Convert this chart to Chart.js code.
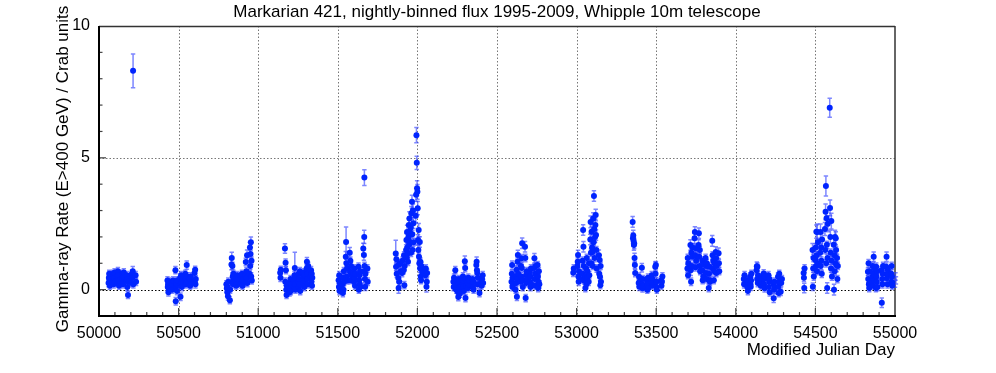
<!DOCTYPE html>
<html>
<head>
<meta charset="utf-8">
<script src="https://cdn.jsdelivr.net/npm/chart.js@4/dist/chart.umd.min.js"></script>
<style>
  body { margin: 0; background: #fff; }
</style>
</head>
<body>
<canvas id="lc" width="996" height="373"></canvas>
<script>
// Mrk 421 nightly flux, one array per observing season: [MJD, flux, error]
// (error omitted = typical bar of the low-flux nights)
const typicalErr = 0.14;

const s1995 = [[50060,0.25],[50062,0.45],[50064,0.6],[50066,0.35],[50068,0.15],[50070,0.55],[50073,0.4],
  [50086,0.3],[50088,0.6],[50090,0.5],[50092,0.2],[50095,0.45],[50098,0.65],[50101,0.3],
  [50115,0.5],[50117,0.25],[50119,0.7],[50121,0.4],[50123,0.55],[50126,0.15],[50129,0.35],
  [50145,0.6],[50147,0.3],[50149,0.45],[50151,0.2],[50153,0.5],[50156,0.65],
  [50174,0.35],[50176,0.55],[50178,0.1],[50180,0.4],[50182,-0.2],[50184,0.3],
  [50203,0.5],[50205,0.25],[50207,0.6],[50209,0.45],[50212,0.7,0.18],[50214,8.3,0.64],[50216,0.2],[50230,0.55],[50233,0.3]];

const s1996 = [[50430,0.35],[50432,0.1],[50434,0.2],[50436,-0.1],[50438,0.05],[50441,0.3],
  [50456,0.15],[50458,0.25],[50460,0.0],[50462,0.2],[50465,0.35],
  [50480,0.74],[50482,-0.44],[50484,0.1],[50486,0.3],[50488,0.2],[50490,-0.05],[50492,0.35],
  [50510,0.45],[50512,-0.27],[50514,0.2],[50516,0.55],[50518,0.3],[50520,0.1],[50523,0.4],
  [50540,0.35],[50542,0.6],[50544,0.2],[50546,0.45],[50548,0.25],[50551,0.93,0.16],[50553,0.5],[50556,0.3],
  [50570,0.4],[50572,0.15],[50574,0.3],[50576,0.5],[50578,0.2],
  [50600,0.63],[50602,0.35],[50604,0.75],[50606,0.2],[50608,0.4]];

const s1997 = [[50800,0.2],[50803,0.05],[50806,-0.1],[50808,0.1],[50810,-0.25],[50812,0.3],[50822,-0.4],[50824,0.0],
  [50832,0.95,0.2],[50834,1.2,0.22],[50836,0.3],[50838,0.9],[50840,0.5],[50842,0.2],[50844,0.6],
  [50860,0.35],[50862,0.15],[50864,0.45],[50866,0.25],[50868,0.55],[50870,0.3],[50872,0.4],
  [50890,0.5],[50892,0.2],[50894,0.45],[50896,0.3],[50898,0.6],[50900,0.35],[50902,0.15],
  [50920,0.55],[50922,1.05],[50924,0.3],[50926,0.7],[50928,0.45],[50930,1.3,0.2],[50932,0.25],
  [50946,0.6],[50948,1.6,0.2],[50950,0.9],[50952,1.35],[50954,1.8,0.2],[50956,0.5],[50958,1.1],[50960,0.35]];

const s1998 = [[51138,0.64],[51140,0.45],[51142,0.75],[51168,1.56,0.18],[51170,0.3],[51172,1.02],[51174,0.74],[51176,0.0],[51178,-0.2],[51180,0.15],
  [51195,0.1],[51197,-0.1],[51199,0.25],[51201,0.05],[51203,0.4],[51205,-0.05],[51207,0.2],
  [51224,0.35],[51226,0.1],[51228,0.55],[51230,0.82,0.6],[51232,0.2],[51234,0.0],[51236,0.45],
  [51252,0.3],[51254,0.6],[51256,0.1],[51258,0.4],[51260,0.2],[51262,0.7],[51264,-0.05],
  [51282,0.5],[51284,0.25],[51286,0.65],[51288,0.35],[51290,0.1],[51292,0.55],
  [51304,0.8],[51306,1.06,0.16],[51308,0.4],[51310,0.6],[51312,0.2],[51314,0.9],
  [51330,0.5],[51332,0.74],[51334,0.3],[51336,0.6],[51338,0.15],[51340,0.45]];

const s1999 = [[51505,0.36],[51507,0.1],[51509,0.55],[51511,-0.05],[51513,0.25],[51515,0.06],
  [51530,0.2],[51532,-0.13],[51534,0.45],[51536,0.0],[51538,0.7],[51540,0.3],
  [51550,1.25,0.2],[51552,1.81,0.57],[51554,1.0],[51556,0.5],[51558,0.8],[51560,0.35],
  [51575,1.4,0.2],[51577,0.68],[51579,1.1],[51581,0.36],[51583,0.9],[51585,0.55],
  [51600,0.63],[51602,0.3],[51604,0.8],[51606,0.45],[51608,0.15],[51610,0.6],
  [51630,0.87],[51632,0.0],[51634,0.36],[51636,0.55],[51638,0.2],[51640,0.7],[51642,0.1],
  [51660,1.56,0.2],[51662,0.68],[51664,1.31,0.2],[51666,2.0,0.25],[51667,4.25,0.3],[51668,0.9],[51670,0.4],[51672,0.11],[51674,0.6],[51686,0.8],[51688,0.3]];

const s2000 = [[51864,1.37,0.5],[51866,0.87],[51868,1.15],[51870,0.6],[51880,0.44],[51882,0.06,0.2],[51884,0.95],[51886,0.3],
  [51893,1.0],[51895,0.7],[51904,0.63],[51906,1.1],[51914,0.74],[51916,1.3],[51918,0.17],[51920,0.9],
  [51929,1.5,0.2],[51931,1.88,0.25],[51933,1.2],[51935,2.19,0.25],[51937,1.6],[51939,1.37],[51941,1.06],[51944,2.0,0.2],
  [51946,2.45,0.25],[51948,1.7],[51950,2.7,0.25],[51952,2.2],[51956,1.81,0.2],[51958,2.35,0.2],[51960,1.4],[51962,2.9,0.25],
  [51966,3.33,0.25],[51968,2.1],[51970,1.5],[51972,3.0,0.25],[51975,2.52,0.2],[51977,1.8],
  [51990,2.8,0.25],[51992,3.6,0.25],[51994,5.86,0.29],[51996,4.81,0.25],[51998,3.85,0.28],[52000,3.71,0.28],[52002,3.09,0.25],
  [52004,1.88,0.2],[52006,1.5,0.2],[52008,2.26,0.25],[52010,1.25],[52012,1.0],[52015,1.81,0.2],[52017,0.8],[52019,1.06],
  [52021,0.5],[52023,0.36],[52025,0.9],[52030,0.74],[52032,0.63],[52050,0.55],[52053,0.8],[52057,0.11,0.2],[52059,0.3],[52061,0.63]];

const s2001 = [[52226,0.3],[52228,0.1],[52230,0.45],[52238,0.74],[52240,0.2],[52242,0.35],[52244,0.0],
  [52255,-0.1],[52257,-0.28],[52259,0.25],[52261,0.4],[52263,0.05],[52265,0.3],[52267,-0.15],
  [52284,0.2],[52286,0.5],[52288,0.1],[52290,0.35],[52292,-0.05],[52298,1.08,0.2],[52300,0.82],[52302,-0.32],[52304,0.4],[52306,0.15],
  [52316,0.3],[52318,0.05],[52320,0.45],[52322,0.2],[52324,0.35],
  [52345,0.25],[52347,0.4],[52349,0.1],[52351,0.3],[52353,0.0],
  [52370,0.93,0.16],[52372,1.06,0.18],[52374,0.74],[52376,0.63],[52378,0.2],[52380,0.45],
  [52390,-0.13],[52400,0.3],[52403,0.15],[52406,0.4],[52410,0.55],[52413,0.25]];

const s2002 = [[52591,0.3],[52593,0.6],[52595,0.93,0.16],[52597,0.1],[52599,0.45],[52601,0.2],
  [52617,0.0],[52619,0.5],[52621,0.25],[52623,0.75],[52625,-0.27],[52627,0.4],[52629,1.06],[52631,1.31,0.18],[52633,0.6],
  [52648,0.3],[52650,0.9],[52652,0.5],[52654,1.19],[52656,0.82],[52658,1.76,0.2],[52660,0.35],[52662,0.1],
  [52676,1.63,0.2],[52678,1.2],[52680,-0.32],[52682,0.55],[52684,0.25],[52686,0.7],[52688,0.4],
  [52705,0.68],[52707,0.3],[52709,0.5],[52711,0.1],[52713,0.8],[52715,0.2],
  [52733,0.82],[52735,1.19,0.18],[52737,0.4],[52739,0.6],[52741,0.15],[52743,0.9],
  [52755,0.93],[52757,0.5],[52759,0.06],[52761,0.3],[52763,0.7],[52766,0.2]];

const s2003 = [[52979,0.64],[52982,0.8],[53005,0.9],[53007,1.06],[53009,1.31,0.18],[53011,0.5],[53013,0.3],[53015,0.7],
  [53035,0.4],[53037,1.1],[53039,0.6],[53041,2.26,0.2],[53043,1.63,0.2],[53045,0.9],[53047,0.35],
  [53055,0.06],[53057,0.5],[53060,0.8],[53062,0.2],[53064,1.2],[53066,0.45],[53068,0.7],
  [53076,0.3],[53078,1.0],[53080,0.55],[53086,1.9,0.2],[53088,2.57,0.22],[53090,1.4],[53092,1.0],[53094,2.2,0.2],
  [53097,1.6],[53099,1.43],[53101,0.9],[53105,2.7,0.22],[53107,1.8],[53109,3.55,0.2],[53111,2.3,0.2],[53113,1.2],
  [53116,2.0,0.2],[53118,2.45,0.22],[53120,2.83,0.22],[53122,2.07,0.2],[53124,1.5],[53126,0.8],
  [53140,1.3,0.2],[53142,0.6],[53145,1.12,0.2],[53147,0.49],[53149,0.17],[53151,0.9],[53153,0.3]];

const s2004 = [[53352,2.57,0.2],[53354,1.95,0.2],[53356,2.05,0.2],[53358,1.85,0.2],[53360,1.69,0.2],[53362,1.75,0.2],
  [53364,1.2,0.18],[53366,0.93],[53368,0.63],
  [53390,0.25],[53392,0.49],[53394,0.11],[53396,0.3],[53410,0.83,0.16],[53412,0.2],[53414,0.05],[53416,0.4],[53418,0.15],
  [53440,0.11],[53442,0.35],[53444,0.0],[53446,0.2],[53448,0.45],[53450,0.05],
  [53470,0.3],[53472,0.55],[53474,0.15],[53476,0.4],[53478,0.25],
  [53494,0.87,0.18],[53496,0.6],[53498,0.93],[53500,0.11],[53502,0.3],[53504,0.0],
  [53530,0.35],[53533,0.15],[53536,0.3],[53539,0.5]];

const s2005 = [[53696,0.8],[53698,1.2],[53700,0.55],[53702,1.0],
  [53715,1.69,0.2],[53717,0.74,0.2],[53719,0.3],[53721,1.4],[53724,0.9],[53726,1.25],[53728,1.6],
  [53741,1.95,0.2],[53743,2.19,0.2],[53745,1.3],[53747,0.85],[53749,1.57],[53751,1.1],
  [53766,1.69,0.2],[53768,2.14,0.2],[53770,1.25],[53772,0.9],[53774,1.5],[53776,0.7],
  [53788,0.74],[53790,1.1],[53792,0.36],[53794,0.95],[53796,0.5],
  [53810,1.2],[53812,0.63],[53814,0.9],[53816,0.4],[53818,1.0],
  [53830,0.06],[53832,0.6],[53834,0.87],[53836,0.36],[53838,0.3],
  [53852,1.85,0.2],[53854,1.3],[53856,0.8],[53858,1.1],[53862,0.36],[53864,0.7],[53866,1.0],
  [53874,1.43,0.2],[53876,1.19],[53878,0.63],[53880,0.9],[53892,1.38,0.2],[53894,1.0],[53896,0.7]];

const s2006 = [[54050,0.4],[54052,0.2],[54055,0.55],[54070,0.36],[54072,0.1],[54074,0.3],[54076,-0.05],
  [54090,0.49],[54092,0.2],[54094,0.11],[54096,0.35],[54098,0.6],
  [54130,0.74],[54132,0.89,0.16],[54134,0.4],[54136,0.87],[54138,0.25],[54140,0.55],
  [54155,0.36],[54157,0.15],[54159,0.45],[54161,0.3],
  [54175,0.61],[54177,0.2],[54179,0.4],[54181,0.05],[54183,0.5],
  [54205,0.55],[54207,0.1],[54209,0.3],[54211,0.4],[54213,-0.1],
  [54236,0.2],[54238,-0.33,0.16],[54240,0.0],[54242,0.3],[54244,0.1],
  [54265,0.49],[54267,0.11],[54269,-0.13],[54271,0.3],[54273,0.6],[54282,-0.08],[54285,0.25],[54290,0.4]];

const s2007 = [[54426,0.63,0.18],[54428,0.45],[54430,0.06,0.18],[54432,0.8],
  [54482,1.5,0.25],[54484,0.11],[54486,0.8],[54488,1.2],[54490,0.5],
  [54500,1.12,0.25],[54502,1.6],[54504,0.9],[54506,2.2,0.25],[54508,1.3],[54510,0.7],[54512,2.19,0.3],[54514,1.0],[54516,1.8],
  [54530,1.4],[54532,2.19,0.3],[54534,0.9],[54536,1.6],[54538,1.1],[54540,0.6],[54542,1.9,0.25],
  [54560,2.3,0.25],[54562,1.5],[54564,2.95,0.3],[54566,3.93,0.38],[54568,1.0],[54570,2.71,0.3],[54572,1.7],[54574,0.06,0.2],[54576,1.2],[54578,2.5,0.3],
  [54590,6.9,0.36],[54592,3.1,0.3],[54594,2.0,0.25],[54596,1.4],[54598,0.8],[54600,2.6,0.3],[54602,1.1],[54604,0.5],
  [54615,1.7,0.25],[54617,0.0,0.2],[54619,1.3],[54621,0.7],[54623,2.0,0.25],[54625,1.0],
  [54628,1.95,0.25],[54630,1.5],[54633,0.93,0.25],[54636,1.2],[54638,0.4],[54641,0.9]];

const s2008 = [[54830,0.68],[54832,0.4],[54834,1.0],[54836,0.2],[54838,0.06],[54840,0.7],[54842,0.3],
  [54858,0.49],[54860,0.9],[54862,0.15],[54864,0.6],[54866,1.25,0.18],[54868,0.35],[54870,0.8],
  [54880,0.06],[54882,0.87],[54884,0.5],[54886,0.3],[54888,0.7],[54890,0.1],
  [54915,0.74],[54917,-0.5,0.18],[54919,0.4],[54921,0.2],[54923,0.6],[54925,0.9],
  [54945,0.87],[54947,1.25,0.18],[54949,0.43],[54951,0.6],[54953,0.2],[54955,0.75],
  [54975,0.61],[54977,0.3],[54979,0.9],[54981,0.5],[54983,0.15],[55000,0.23],[55003,0.5],[55006,0.35]];

const seasons = [s1995, s1996, s1997, s1998, s1999, s2000, s2001, s2002, s2003, s2004, s2005, s2006, s2007, s2008];

// axis ticks
const xTicks = [50000, 50500, 51000, 51500, 52000, 52500, 53000, 53500, 54000, 54500, 55000];
const yTicks = [0, 5, 10];

const points = [];
seasons.forEach(season => {
  season.forEach(p => points.push({ x: p[0], y: p[1], err: p.length > 2 ? p[2] : typicalErr }));
});

const font = 'Liberation Sans, Arial, Helvetica, sans-serif';

// barras de error antes de los puntos
const errorBars = {
  id: 'errorBars',
  beforeDatasetsDraw(chart) {
    const { ctx, scales: { x, y } } = chart;
    ctx.save();
    ctx.strokeStyle = 'rgba(55,70,255,0.65)';
    ctx.lineWidth = 1.5;
    points.forEach(p => {
      const px = x.getPixelForValue(p.x);
      const top = y.getPixelForValue(p.y + p.err);
      const bot = y.getPixelForValue(p.y - p.err);
      ctx.beginPath();
      ctx.moveTo(px, top); ctx.lineTo(px, bot);
      ctx.moveTo(px - 2.2, top); ctx.lineTo(px + 2.2, top);
      ctx.moveTo(px - 2.2, bot); ctx.lineTo(px + 2.2, bot);
      ctx.stroke();
    });
    ctx.restore();
  }
};

// frame, dotted grid and inward ticks, ROOT style
const frame = {
  id: 'frame',
  beforeDatasetsDraw(chart) {
    const { ctx, chartArea: a, scales: { x, y } } = chart;
    ctx.save();
    ctx.lineWidth = 1;
    ctx.setLineDash([1.5, 2]);
    ctx.strokeStyle = '#777';
    xTicks.slice(1, -1).forEach(v => {
      const px = Math.round(x.getPixelForValue(v)) + 0.5;
      ctx.beginPath(); ctx.moveTo(px, a.top); ctx.lineTo(px, a.bottom); ctx.stroke();
    });
    const p5 = Math.round(y.getPixelForValue(5)) + 0.5;
    ctx.beginPath(); ctx.moveTo(a.left, p5); ctx.lineTo(a.right, p5); ctx.stroke();
    ctx.strokeStyle = '#000';
    const p0 = Math.round(y.getPixelForValue(0)) + 0.5;
    ctx.beginPath(); ctx.moveTo(a.left, p0); ctx.lineTo(a.right, p0); ctx.stroke();
    ctx.setLineDash([]);

    // minor ticks
    ctx.strokeStyle = '#444';
    ctx.lineWidth = 1.2;
    for (let v = 50100; v < 55000; v += 100) {
      const px = x.getPixelForValue(v);
      const len = v % 500 === 0 ? 8 : 4;
      ctx.beginPath(); ctx.moveTo(px, a.bottom); ctx.lineTo(px, a.bottom - len); ctx.stroke();
    }
    for (let v = -1; v <= 9; v++) {
      const py = y.getPixelForValue(v);
      const len = v % 5 === 0 ? 7 : 3.5;
      ctx.beginPath(); ctx.moveTo(a.left, py); ctx.lineTo(a.left + len, py); ctx.stroke();
    }

    // borders
    ctx.strokeStyle = '#333';
    ctx.lineWidth = 1.5;
    ctx.beginPath(); ctx.moveTo(a.left, a.top + 0.5); ctx.lineTo(a.right, a.top + 0.5); ctx.stroke();
    ctx.beginPath(); ctx.moveTo(a.right, a.top); ctx.lineTo(a.right, a.bottom); ctx.stroke();
    ctx.strokeStyle = '#000';
    ctx.lineWidth = 2;
    ctx.beginPath(); ctx.moveTo(a.left, a.top); ctx.lineTo(a.left, a.bottom + 1); ctx.stroke();
    ctx.beginPath(); ctx.moveTo(a.left - 1, a.bottom); ctx.lineTo(a.right + 1, a.bottom); ctx.stroke();
    ctx.restore();
  },
  afterDraw(chart) {
    const { ctx, chartArea: a } = chart;
    ctx.save();
    ctx.fillStyle = '#000';
    ctx.font = '17px ' + font;
    ctx.textAlign = 'center';
    ctx.textBaseline = 'middle';
    ctx.fillText('Markarian 421, nightly-binned flux 1995-2009, Whipple 10m telescope', 497, 12);
    ctx.textAlign = 'right';
    ctx.fillText('Modified Julian Day', a.right, 350);
    ctx.translate(63, 169);
    ctx.rotate(-Math.PI / 2);
    ctx.textAlign = 'center';
    ctx.fillText('Gamma-ray Rate (E>400 GeV) / Crab units', 0, 0);
    ctx.restore();
  }
};

const ctx = document.querySelector('#lc').getContext('2d');
const lightCurve = new Chart(ctx, {
  type: 'scatter',
  data: {
    datasets: [{
      data: points,
      pointRadius: 3,
      pointBorderWidth: 0,
      pointBackgroundColor: 'rgb(0,36,255)',
      showLine: false
    }]
  },
  options: {
    responsive: false,
    animation: false,
    layout: { padding: { left: 0, right: 101, top: 26, bottom: 0 } },
    plugins: { legend: { display: false }, tooltip: { enabled: false } },
    scales: {
      x: {
        type: 'linear', min: 50000, max: 55000,
        grid: { display: false, drawTicks: false },
        border: { display: false },
        afterBuildTicks: s => { s.ticks = xTicks.map(v => ({ value: v })); },
        afterFit: s => { s.height = 57; },
        ticks: {
          autoSkip: false, maxRotation: 0, padding: 8, color: '#000',
          font: { family: font, size: 16 },
          callback: v => String(v)
        }
      },
      y: {
        min: -1, max: 10,
        grid: { display: false, drawTicks: false },
        border: { display: false },
        afterBuildTicks: s => { s.ticks = yTicks.map(v => ({ value: v })); },
        afterFit: s => { s.width = 99; },
        ticks: {
          padding: 9, color: '#000',
          font: { family: font, size: 16 },
          callback: v => String(v)
        }
      }
    }
  },
  plugins: [frame, errorBars]
});
</script>
</body>
</html>
